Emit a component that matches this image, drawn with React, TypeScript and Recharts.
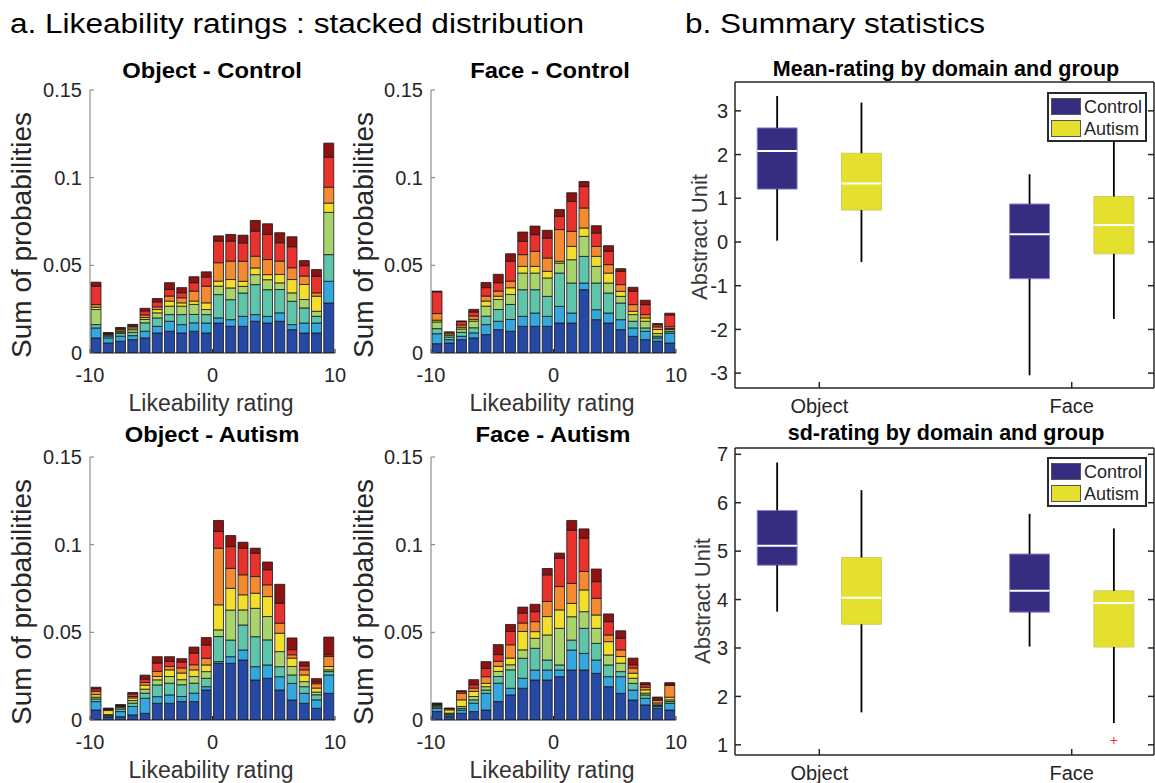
import React from 'react';
import { BarChart, Bar, XAxis, YAxis, ComposedChart, Scatter, ReferenceArea, ReferenceLine } from 'recharts';

const FONT = '"Liberation Sans", Arial, Helvetica, sans-serif';

// rating bins (width 1, from -10 to 10)
const BIN_CENTERS = [-9.5, -8.5, -7.5, -6.5, -5.5, -4.5, -3.5, -2.5, -1.5, -0.5, 0.5, 1.5, 2.5, 3.5, 4.5, 5.5, 6.5, 7.5, 8.5, 9.5];

// subject groups, bottom (blue) to top (dark red)
const BAND_COLORS = ['#2649a3', '#34a7dc', '#5ec5ab', '#a9d46b', '#f3de2b', '#f48b30', '#e8322d', '#8d1313'];

// probability per bin, one row per bin, one value per colour band
const OBJ_CTRL = [
  [.0086, .0057, .0019, .0086, .0013, .0015, .0105, .0023],
  [.0057, .0029, .0010, .0006, .0004, .0004, .0004, .0002],
  [.0067, .0029, .0015, .0008, .0006, .0008, .0008, .0004],
  [.0076, .0023, .0019, .0015, .0010, .0008, .0008, .0004],
  [.0086, .0038, .0048, .0019, .0011, .0015, .0023, .0015],
  [.0114, .0038, .0048, .0029, .0019, .0015, .0029, .0019],
  [.0124, .0057, .0038, .0048, .0029, .0029, .0038, .0038],
  [.0114, .0048, .0057, .0048, .0019, .0029, .0029, .0029],
  [.0124, .0048, .0048, .0057, .0019, .0057, .0048, .0034],
  [.0114, .0057, .0048, .0029, .0038, .0095, .0053, .0029],
  [.0171, .0029, .0133, .0048, .0029, .0105, .0124, .0029],
  [.0152, .0038, .0114, .0067, .0048, .0105, .0114, .0038],
  [.0152, .0057, .0133, .0038, .0029, .0114, .0105, .0044],
  [.0181, .0038, .0171, .0057, .0038, .0067, .0143, .0061],
  [.0171, .0038, .0152, .0057, .0029, .0086, .0143, .0061],
  [.0181, .0048, .0133, .0038, .0048, .0076, .0105, .0057],
  [.0133, .0029, .0133, .0048, .0076, .0067, .0120, .0057],
  [.0114, .0057, .0086, .0048, .0086, .0048, .0059, .0029],
  [.0114, .0057, .0038, .0029, .0086, .0019, .0095, .0038],
  [.0285, .0124, .0152, .0241, .0053, .0091, .0171, .0080],
];

const FACE_CTRL = [
  [.0053, .0057, .0029, .0038, .0010, .0038, .0124, .0004],
  [.0057, .0019, .0015, .0010, .0008, .0006, .0006, .0000],
  [.0076, .0019, .0023, .0019, .0010, .0013, .0019, .0004],
  [.0086, .0029, .0029, .0038, .0010, .0019, .0023, .0015],
  [.0105, .0057, .0048, .0057, .0029, .0029, .0048, .0029],
  [.0133, .0048, .0067, .0057, .0019, .0029, .0048, .0048],
  [.0124, .0067, .0086, .0057, .0038, .0038, .0114, .0042],
  [.0152, .0057, .0152, .0095, .0038, .0067, .0076, .0053],
  [.0152, .0076, .0133, .0095, .0038, .0086, .0095, .0049],
  [.0152, .0057, .0114, .0105, .0038, .0076, .0114, .0044],
  [.0171, .0095, .0190, .0057, .0010, .0181, .0076, .0038],
  [.0171, .0057, .0171, .0133, .0076, .0086, .0171, .0049],
  [.0361, .0038, .0152, .0114, .0048, .0114, .0122, .0029],
  [.0190, .0057, .0152, .0095, .0057, .0057, .0076, .0042],
  [.0171, .0057, .0114, .0057, .0057, .0048, .0076, .0032],
  [.0133, .0057, .0095, .0038, .0029, .0038, .0076, .0015],
  [.0095, .0048, .0038, .0038, .0019, .0038, .0076, .0023],
  [.0076, .0048, .0019, .0038, .0019, .0019, .0057, .0025],
  [.0067, .0019, .0010, .0015, .0023, .0015, .0013, .0006],
  [.0057, .0057, .0010, .0010, .0006, .0010, .0067, .0010],
];

const OBJ_AUT = [
  [.0057, .0048, .0015, .0010, .0015, .0019, .0013, .0010],
  [.0015, .0008, .0004, .0004, .0023, .0006, .0004, .0004],
  [.0019, .0029, .0015, .0008, .0006, .0006, .0002, .0002],
  [.0029, .0048, .0019, .0015, .0015, .0008, .0015, .0008],
  [.0038, .0086, .0029, .0023, .0023, .0015, .0019, .0023],
  [.0095, .0038, .0067, .0029, .0019, .0029, .0048, .0036],
  [.0095, .0048, .0067, .0038, .0038, .0019, .0029, .0027],
  [.0105, .0029, .0067, .0029, .0038, .0029, .0034, .0019],
  [.0105, .0048, .0057, .0038, .0038, .0029, .0067, .0034],
  [.0171, .0019, .0048, .0038, .0038, .0038, .0076, .0042],
  [.0323, .0010, .0143, .0038, .0143, .0323, .0095, .0063],
  [.0323, .0038, .0095, .0171, .0124, .0114, .0124, .0063],
  [.0342, .0057, .0143, .0086, .0086, .0114, .0152, .0034],
  [.0228, .0076, .0171, .0162, .0086, .0095, .0133, .0029],
  [.0238, .0076, .0143, .0133, .0114, .0067, .0086, .0044],
  [.0171, .0076, .0057, .0086, .0105, .0057, .0114, .0108],
  [.0114, .0095, .0048, .0048, .0048, .0019, .0029, .0067],
  [.0095, .0057, .0038, .0029, .0038, .0029, .0023, .0023],
  [.0067, .0048, .0029, .0015, .0023, .0025, .0010, .0019],
  [.0152, .0105, .0019, .0010, .0019, .0057, .0010, .0101],
];

const FACE_AUT = [
  [.0048, .0019, .0008, .0006, .0004, .0004, .0004, .0004],
  [.0019, .0010, .0006, .0004, .0019, .0006, .0002, .0002],
  [.0038, .0019, .0010, .0010, .0038, .0038, .0010, .0004],
  [.0048, .0048, .0019, .0019, .0029, .0019, .0019, .0029],
  [.0057, .0095, .0019, .0019, .0019, .0038, .0048, .0038],
  [.0105, .0105, .0038, .0029, .0029, .0029, .0038, .0057],
  [.0143, .0038, .0105, .0029, .0038, .0076, .0076, .0040],
  [.0181, .0057, .0114, .0048, .0105, .0048, .0057, .0034],
  [.0228, .0057, .0124, .0057, .0038, .0057, .0057, .0042],
  [.0228, .0057, .0057, .0143, .0105, .0086, .0152, .0036],
  [.0247, .0038, .0029, .0209, .0105, .0133, .0162, .0029],
  [.0285, .0114, .0057, .0133, .0076, .0114, .0304, .0055],
  [.0285, .0095, .0143, .0095, .0124, .0105, .0190, .0053],
  [.0266, .0076, .0095, .0086, .0076, .0095, .0095, .0072],
  [.0190, .0057, .0067, .0057, .0076, .0038, .0076, .0044],
  [.0152, .0095, .0029, .0048, .0038, .0038, .0067, .0042],
  [.0114, .0057, .0038, .0029, .0029, .0029, .0019, .0038],
  [.0086, .0038, .0019, .0010, .0019, .0015, .0015, .0011],
  [.0067, .0010, .0006, .0004, .0010, .0015, .0008, .0011],
  [.0057, .0038, .0010, .0010, .0015, .0067, .0006, .0010],
];

// box plots: per domain [min, q1, median, q3, max]
const DOMAINS = ['Object', 'Face'];
const MEAN_CONTROL = [[0.03, 1.21, 2.08, 2.61, 3.34], [-3.05, -0.84, 0.18, 0.87, 1.55]];
const MEAN_AUTISM = [[-0.46, 0.73, 1.34, 2.03, 3.19], [-1.76, -0.27, 0.39, 1.04, 2.9]];
const SD_CONTROL = [[3.75, 4.71, 5.11, 5.84, 6.83], [3.03, 3.74, 4.18, 4.94, 5.77]];
const SD_AUTISM = [[1.67, 3.49, 4.04, 4.87, 6.26], [1.45, 3.02, 3.93, 4.18, 5.47]];
const SD_OUTLIERS = [{ domain: 2, group: 'Autism', y: 1.09 }];

const CONTROL_FILL = '#362c80';
const AUTISM_FILL = '#e5e02d';
const GROUP_OFFSET = 0.167;
const BOX_HALF = 0.079;

const Label = ({ x, y, size, children, bold = false, color = '#262626', rotate = 0, sx = 1 }: any) => (
  <div style={{
    position: 'absolute', left: x, top: y, fontFamily: FONT, fontSize: size, fontWeight: bold ? 700 : 400,
    color, lineHeight: 1, whiteSpace: 'nowrap', transform: `translate(-50%, -50%) rotate(${rotate}deg) scaleX(${sx})`,
  }}>{children}</div>
);

const tickStyle = { fontSize: 20, fill: '#262626', fontFamily: FONT };

const HistPanel = ({ rows, left, top }: { rows: number[][], left: number, top: number }) => {
  const data = BIN_CENTERS.map((x, i) => {
    const row: any = { x };
    rows[i].forEach((v, k) => { row['b' + k] = v; });
    return row;
  });
  return (
    <div style={{ position: 'absolute', left, top, width: 350, height: 400 }}>
      <BarChart width={350} height={400} data={data} margin={{ top: 90, right: 15, bottom: 17, left: 30 }} barSize={10}>
        <XAxis type="number" dataKey="x" domain={[-10, 10]} ticks={[-10, 0, 10]} allowDataOverflow interval={0}
          tickSize={-4} tickMargin={19} axisLine={{ stroke: '#222' }} tickLine={{ stroke: '#222' }} tick={tickStyle} />
        <YAxis type="number" domain={[0, 0.15]} ticks={[0, 0.05, 0.1, 0.15]} allowDataOverflow interval={0} width={60}
          tickSize={-4} tickMargin={12} axisLine={{ stroke: '#7a7a7a' }} tickLine={{ stroke: '#7a7a7a' }} tick={tickStyle} />
        {BAND_COLORS.map((c, k) => (
          <Bar key={k} dataKey={'b' + k} stackId="s" fill={c} stroke="#181818" strokeWidth={0.8} isAnimationActive={false} />
        ))}
      </BarChart>
    </div>
  );
};

const Plus = (props: any) => {
  const { cx, cy } = props;
  return (
    <g stroke="#ff2a2a" strokeWidth={1}>
      <line x1={cx - 3.5} x2={cx + 3.5} y1={cy} y2={cy} />
      <line x1={cx} x2={cx} y1={cy - 3.5} y2={cy + 3.5} />
    </g>
  );
};

const BoxPanel = ({ control, autism, outliers, top, height, margin, yDomain, yTicks }: any) => {
  const boxes = DOMAINS.flatMap((d, i) => [
    { cx: i + 1 - GROUP_OFFSET, s: control[i], fill: CONTROL_FILL, edge: '#8882d0' },
    { cx: i + 1 + GROUP_OFFSET, s: autism[i], fill: AUTISM_FILL, edge: '#cfcb62' },
  ]);
  const outlierPts = outliers.map((o: any) => ({ x: o.domain + (o.group === 'Autism' ? GROUP_OFFSET : -GROUP_OFFSET), y: o.y }));
  const axisLine = { stroke: '#262626', strokeWidth: 1.5 };
  const xDomain = [0.666, 2.326];
  return (
    <div style={{ position: 'absolute', left: 690, top, width: 465, height }}>
      <ComposedChart width={465} height={height} margin={margin}>
        <XAxis xAxisId="b" type="number" dataKey="x" domain={xDomain} ticks={[1, 2]} allowDataOverflow interval={0}
          tickFormatter={(v: number) => DOMAINS[v - 1]} tickSize={-6} tickMargin={17} height={30}
          axisLine={axisLine} tickLine={axisLine} tick={tickStyle} />
        <XAxis xAxisId="t" orientation="top" type="number" domain={xDomain} ticks={[1, 2]} allowDataOverflow interval={0}
          tickFormatter={() => ''} tickSize={-6} height={1} axisLine={axisLine} tickLine={axisLine} />
        <YAxis yAxisId="l" type="number" dataKey="y" domain={yDomain} ticks={yTicks} allowDataOverflow interval={0}
          width={35} tickSize={-6} tickMargin={13} axisLine={axisLine} tickLine={axisLine} tick={tickStyle} />
        <YAxis yAxisId="r" orientation="right" type="number" domain={yDomain} ticks={yTicks} allowDataOverflow interval={0}
          width={1} tickFormatter={() => ''} tickSize={-6} axisLine={axisLine} tickLine={axisLine} />
        {boxes.map((b, i) => [
          <ReferenceLine key={'wl' + i} xAxisId="b" yAxisId="l" segment={[{ x: b.cx, y: b.s[0] }, { x: b.cx, y: b.s[1] }]} stroke="#000" strokeWidth={1.8} />,
          <ReferenceLine key={'wh' + i} xAxisId="b" yAxisId="l" segment={[{ x: b.cx, y: b.s[3] }, { x: b.cx, y: b.s[4] }]} stroke="#000" strokeWidth={1.8} />,
          <ReferenceArea key={'bx' + i} xAxisId="b" yAxisId="l" x1={b.cx - BOX_HALF} x2={b.cx + BOX_HALF} y1={b.s[1]} y2={b.s[3]}
            fill={b.fill} fillOpacity={1} stroke={b.edge} strokeWidth={1} />,
          <ReferenceLine key={'md' + i} xAxisId="b" yAxisId="l" segment={[{ x: b.cx - BOX_HALF, y: b.s[2] }, { x: b.cx + BOX_HALF, y: b.s[2] }]} stroke="#fff" strokeWidth={2} />,
        ])}
        <Scatter xAxisId="b" yAxisId="l" data={outlierPts} shape={Plus} isAnimationActive={false} />
      </ComposedChart>
    </div>
  );
};

const LegendBox = ({ left, top }: { left: number, top: number }) => (
  <div style={{ position: 'absolute', left, top, width: 100, height: 50, boxSizing: 'border-box', border: '2px solid #2a2a2a', background: '#fff', fontFamily: FONT, fontSize: 18, color: '#262626' }}>
    {[['Control', CONTROL_FILL], ['Autism', AUTISM_FILL]].map(([name, c], i) => (
      <div key={name} style={{ position: 'absolute', left: 2, top: 4 + i * 22, height: 17, display: 'flex', alignItems: 'center' }}>
        <div style={{ width: 30, height: 17, background: c, boxSizing: 'border-box', border: '1px solid #555' }} />
        <span style={{ marginLeft: 3, lineHeight: 1 }}>{name}</span>
      </div>
    ))}
  </div>
);

export default function App() {
  return (
    <div style={{ position: 'absolute', left: 0, top: 0, width: 1155, height: 783, background: '#fff', overflow: 'hidden' }}>
      <Label x={297} y={24} size={27} sx={1.17} color="#000">a. Likeability ratings : stacked distribution</Label>
      <Label x={835} y={24} size={27} sx={1.17} color="#000">b. Summary statistics</Label>

      <HistPanel rows={OBJ_CTRL} left={0} top={0} />
      <HistPanel rows={FACE_CTRL} left={341} top={0} />
      <HistPanel rows={OBJ_AUT} left={0} top={367} />
      <HistPanel rows={FACE_AUT} left={341} top={367} />

      <Label x={212} y={71} size={22} bold color="#000" sx={1.08}>Object - Control</Label>
      <Label x={550} y={71} size={22} bold color="#000" sx={1.08}>Face - Control</Label>
      <Label x={212} y={435} size={22} bold color="#000" sx={1.08}>Object - Autism</Label>
      <Label x={553} y={435} size={22} bold color="#000" sx={1.08}>Face - Autism</Label>

      <Label x={211} y={403} size={23} color="#333">Likeability rating</Label>
      <Label x={552} y={403} size={23} color="#333">Likeability rating</Label>
      <Label x={211} y={770} size={23} color="#333">Likeability rating</Label>
      <Label x={552} y={770} size={23} color="#333">Likeability rating</Label>

      <Label x={22} y={235} size={28} rotate={-90}>Sum of probabilities</Label>
      <Label x={364} y={235} size={28} rotate={-90}>Sum of probabilities</Label>
      <Label x={22} y={602} size={28} rotate={-90}>Sum of probabilities</Label>
      <Label x={364} y={602} size={28} rotate={-90}>Sum of probabilities</Label>

      <BoxPanel control={MEAN_CONTROL} autism={MEAN_AUTISM} outliers={[]} top={0} height={420}
        margin={{ top: 81, right: 0, bottom: 2, left: 10 }} yDomain={[-3.34, 3.66]} yTicks={[-3, -2, -1, 0, 1, 2, 3]} />
      <BoxPanel control={SD_CONTROL} autism={SD_AUTISM} outliers={SD_OUTLIERS} top={410} height={373}
        margin={{ top: 37, right: 0, bottom: -2, left: 10 }} yDomain={[0.79, 7.13]} yTicks={[1, 2, 3, 4, 5, 6, 7]} />

      <Label x={946} y={70} size={21.5} bold color="#000">Mean-rating by domain and group</Label>
      <Label x={946} y={434} size={21.5} bold color="#000">sd-rating by domain and group</Label>
      <Label x={700} y={237} size={22} rotate={-90} color="#3a3a3a">Abstract Unit</Label>
      <Label x={703} y={601} size={22} rotate={-90} color="#3a3a3a">Abstract Unit</Label>

      <LegendBox left={1047} top={92} />
      <LegendBox left={1047} top={457} />
    </div>
  );
}
